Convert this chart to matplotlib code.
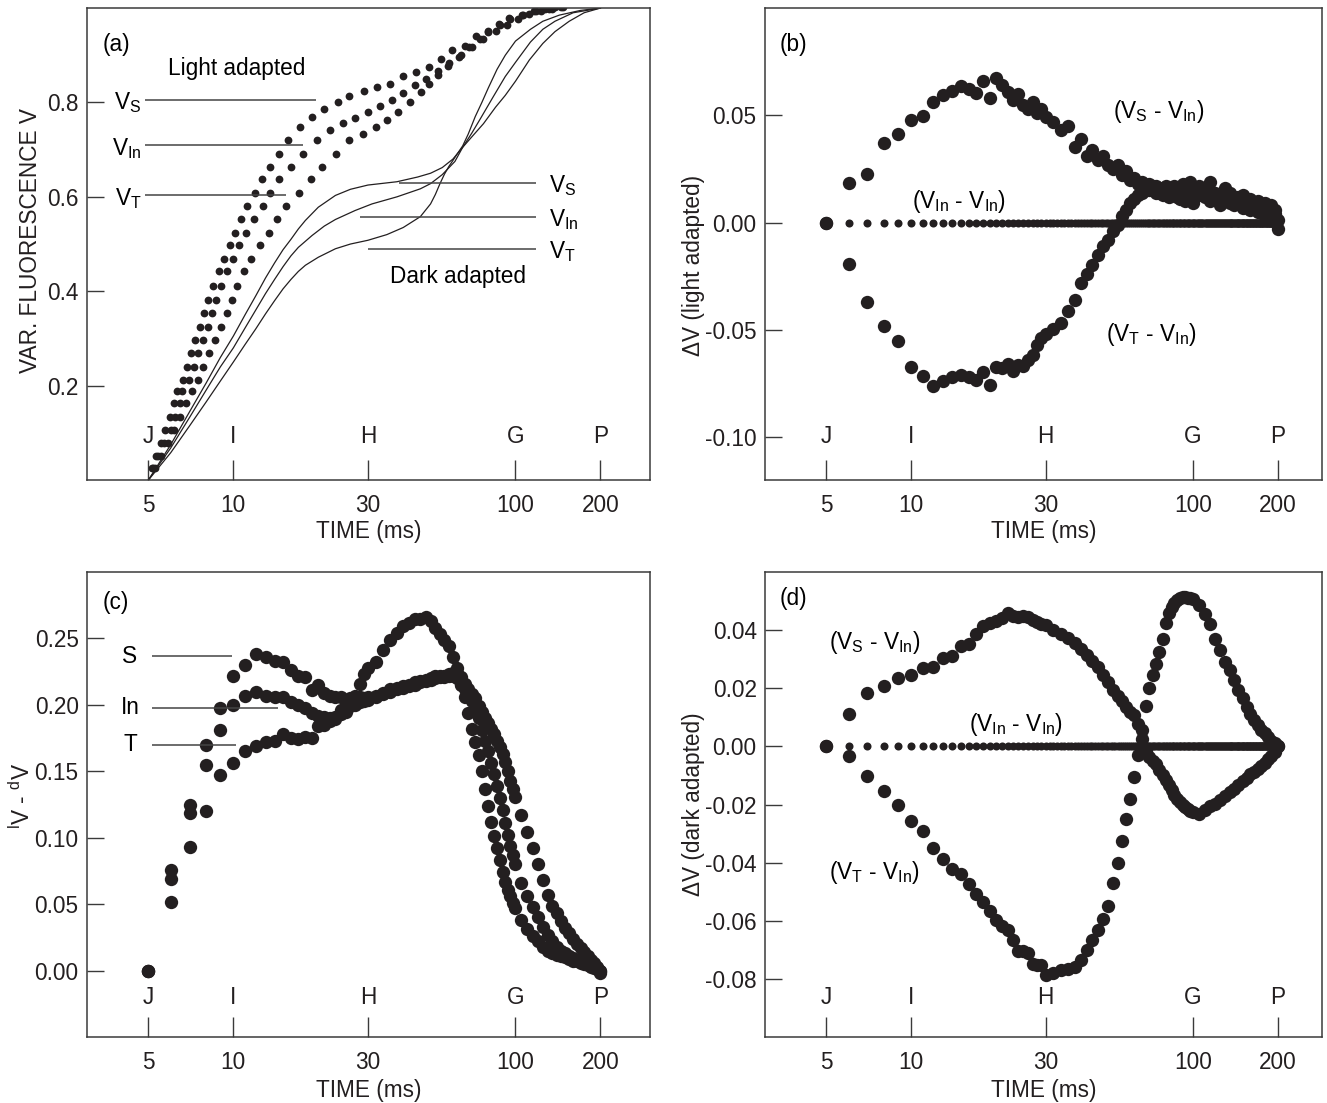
import numpy as np
import matplotlib
matplotlib.use("Agg")
import matplotlib.pyplot as plt
import matplotlib.transforms as mtransforms

plt.rcParams['font.family'] = ['Liberation Sans', 'DejaVu Sans']
plt.rcParams['font.size'] = 16.3
plt.rcParams['mathtext.fontset'] = 'custom'
plt.rcParams['mathtext.rm'] = 'Liberation Sans'
plt.rcParams['mathtext.it'] = 'Liberation Sans:italic'
plt.rcParams['mathtext.bf'] = 'Liberation Sans:bold'

INK = '#231f20'
EDGE = '#3a3a3a'

# ---- time axis ----------------------------------------------------------
x_ticks = [5, 10, 30, 100, 200]
x_ticklabels = ['5', '10', '30', '100', '200']
phase_names = ['J', 'I', 'H', 'G', 'P']

# sampling of the difference curves (ms)
t_diff = np.concatenate([np.arange(5, 31), np.arange(32, 101, 2), np.arange(105, 201, 5)])
t_every_ms = np.arange(5, 201)

# ---- (a) variable fluorescence, light adapted (dots) --------------------
v_rows = [0.025, 0.051, 0.078, 0.106, 0.134, 0.163, 0.189, 0.212, 0.240, 0.269,
          0.297, 0.324, 0.354, 0.382, 0.411, 0.443, 0.469, 0.498, 0.524, 0.554,
          0.581, 0.609, 0.638, 0.664, 0.691, 0.721]

t_light_S = [5.14, 5.33, 5.56, 5.74, 5.98, 6.18, 6.33, 6.65, 6.87, 7.10,
             7.33, 7.61, 7.86, 8.15, 8.49, 8.87, 9.29, 9.76, 10.1, 10.65,
             11.19, 11.9, 12.64, 13.53, 14.47, 15.63, 17.28, 19.02, 21.0, 23.4,
             25.6, 29.0, 32.4, 36.0, 39.9, 44.3, 49.4, 54.4, 59.7, 66.2,
             72.2, 80.0, 87.2, 95.0, 105.3, 116.7, 127, 138]
v_light_S = v_rows + [0.749, 0.769, 0.786, 0.802, 0.814, 0.824, 0.832, 0.840, 0.856, 0.864,
                      0.875, 0.893, 0.911, 0.920, 0.941, 0.952, 0.967, 0.978, 0.985, 0.994,
                      0.997, 1.002]

t_light_In = [5.18, 5.42, 5.69, 6.0, 6.23, 6.46, 6.59, 6.98, 7.24, 7.51,
              7.83, 8.12, 8.42, 8.71, 9.07, 9.50, 9.98, 10.44, 11.09, 11.87,
              12.70, 13.53, 14.56, 16.02, 17.67, 19.8, 22.0, 24.5, 27.0, 30.0,
              33.0, 36.5, 40.0, 44.0, 48.0, 53.0, 58.0, 64.0, 70.0, 77.0,
              85.0, 93.0, 102, 112, 123, 135, 147]
v_light_In = v_rows + [0.742, 0.757, 0.768, 0.780, 0.792, 0.806, 0.820, 0.836, 0.850, 0.866,
                       0.883, 0.900, 0.917, 0.934, 0.951, 0.965, 0.977, 0.987, 0.994, 0.999,
                       1.003]

t_light_T = [5.29, 5.56, 5.88, 6.18, 6.49, 6.81, 7.15, 7.51, 7.83, 8.22,
             8.64, 9.07, 9.52, 9.92, 10.33, 10.88, 11.58, 12.40, 13.34, 14.29,
             15.41, 17.14, 18.9, 20.6, 23.1, 25.6, 28.7, 32.0, 35.0, 38.2,
             42.3, 46.1, 49.4, 53.0, 57.7, 62.9, 68.5, 74.6, 80, 88,
             96, 106, 118, 131, 145]
v_light_T = v_rows + [0.734, 0.748, 0.763, 0.780, 0.800, 0.822, 0.840, 0.858, 0.877, 0.897,
                      0.917, 0.935, 0.950, 0.964, 0.976, 0.986, 0.994, 0.999, 1.002]

# ---- (a) dark adapted (lines) -------------------------------------------
t_dark_S = [5, 6, 7, 8, 9, 10, 11, 12, 13, 14, 15, 16, 17, 18, 20, 23, 26, 30, 38, 45,
            50, 55, 60, 65, 70, 77, 85, 92, 100, 112, 125, 138, 155, 175, 200]
v_dark_S = [0.0, 0.075, 0.145, 0.205, 0.26, 0.305, 0.35, 0.39, 0.428, 0.46, 0.488, 0.51,
            0.532, 0.55, 0.578, 0.603, 0.616, 0.625, 0.632, 0.642, 0.65, 0.662, 0.68,
            0.705, 0.727, 0.755, 0.79, 0.815, 0.845, 0.89, 0.925, 0.95, 0.972, 0.99, 1.0]

t_dark_In = [5, 6, 7, 8, 9, 10, 11, 12, 13, 14, 15, 16, 17, 19, 21, 23, 27, 31, 38, 46,
             50, 55, 61, 65, 70, 75, 83, 92, 100, 113, 125, 138, 160, 200]
v_dark_In = [0.0, 0.068, 0.133, 0.19, 0.24, 0.28, 0.322, 0.36, 0.395, 0.425, 0.452, 0.475,
             0.493, 0.518, 0.538, 0.552, 0.571, 0.585, 0.6, 0.617, 0.628, 0.647, 0.675,
             0.705, 0.735, 0.765, 0.81, 0.855, 0.885, 0.928, 0.955, 0.972, 0.99, 1.0]

t_dark_T = [5, 6, 7, 8, 9, 10, 11, 12, 13, 14, 15, 16, 17, 18, 20, 23, 26, 30, 35, 40,
            46, 50, 52, 54, 56, 58, 60, 62, 65, 68, 72, 76, 80, 86, 92, 100, 113, 125,
            143, 170, 200]
v_dark_T = [0.0, 0.058, 0.115, 0.165, 0.21, 0.25, 0.287, 0.32, 0.352, 0.38, 0.405, 0.425,
            0.442, 0.455, 0.472, 0.49, 0.5, 0.508, 0.52, 0.535, 0.558, 0.585, 0.605, 0.628,
            0.648, 0.664, 0.677, 0.69, 0.708, 0.733, 0.77, 0.8, 0.83, 0.87, 0.9, 0.93,
            0.955, 0.972, 0.985, 0.995, 1.0]

# ---- (b) light adapted differences --------------------------------------
dV_light_S = [0, .0183, .0227, .0369, .0411, .0476, .0498, .056, .0597, .0614,
              .0636, .0625, .0604, .0662, .058, .0672, .064, .061, .057, .060,
              .055, .053, .056, .051, .053, .049,
              .047, .043, .045, .035, .039, .031, .034, .029, .031, .027,
              .025, .027, .022, .024, .020, .021, .018, .019, .016, .018,
              .015, .017, .014, .016, .013, .016, .014, .017, .012, .015,
              .018, .013, .016, .019, .014,
              .017, .012, .019, .013, .011, .016, .009, .012, .010, .013,
              .008, .011, .007, .010, .006, .009, .005, .008, .004, .001]
dV_light_T = [0, -.0195, -.037, -.0484, -.0552, -.0674, -.0714, -.076, -.0739, -.0722,
              -.0711, -.0718, -.0734, -.0698, -.0755, -.0674, -.068, -.0657, -.069, -.0666,
              -.067, -.064, -.0617, -.057, -.054, -.052,
              -.0495, -.047, -.041, -.036, -.028, -.024, -.020, -.015, -.011, -.008,
              -.004, -.001, .003, .006, .009, .011, .013, .014, .015, .015,
              .017, .014, .016, .013, .017, .012, .016, .013, .015, .011,
              .014, .010, .015, .012, .009,
              .013, .016, .010, .014, .008, .012, .014, .008, .012, .007,
              .011, .006, .009, .005, .008, .003, .007, .001, .006, -.003]

# ---- (c) light minus dark ------------------------------------------------
ld_S = [0, .076, .125, .170, .198, .222, .230, .238, .236, .233,
        .232, .226, .222, .221, .211, .215, .209, .207, .206, .206,
        .203, .205, .206, .206, .205, .206,
        .207, .209, .212, .213, .214, .215, .217, .218, .219, .220,
        .222, .221, .222, .223, .224, .224, .221, .216, .212, .208,
        .205, .199, .195, .190, .186, .182, .178, .173, .168, .163,
        .157, .150, .143, .137, .131,
        .117, .104, .092, .080, .068, .057, .049, .043, .037, .032,
        .028, .024, .020, .017, .014, .011, .008, .006, .003, .000]
ld_In = [0, .069, .119, .155, .181, .200, .207, .210, .207, .206,
         .206, .202, .200, .198, .194, .192, .191, .190, .191, .196,
         .198, .199, .200, .202, .203, .204,
         .206, .208, .210, .212, .213, .214, .215, .217, .218, .219,
         .220, .222, .221, .222, .222, .220, .216, .212, .207, .203,
         .198, .190, .181, .173, .165, .156, .148, .139, .130, .121,
         .111, .102, .094, .087, .080,
         .066, .056, .048, .040, .033, .027, .022, .018, .015, .013,
         .011, .0095, .008, .007, .006, .005, .004, .003, .002, .000]
ld_T = [0, .052, .093, .120, .147, .156, .165, .169, .172, .173,
        .178, .175, .174, .176, .175, .184, .185, .188, .189, .193,
        .195, .200, .207, .216, .223, .228,
        .232, .241, .249, .254, .259, .262, .265, .265, .266, .263,
        .258, .253, .249, .244, .236, .228, .215, .206, .194, .182,
        .172, .162, .150, .137, .124, .112, .101, .092, .083, .074,
        .067, .061, .056, .051, .047,
        .038, .031, .026, .022, .018, .015, .013, .012, .011, .010,
        .0085, .0075, .007, .006, .005, .004, .003, .002, .001, -.002]

# ---- (d) dark adapted differences ---------------------------------------
dV_dark_S = [0, .0112, .0184, .0208, .0235, .0246, .0270, .0274, .0304, .0312,
             .0346, .0354, .0386, .0415, .0424, .0430, .0442, .0458, .0450, .0446,
             .0448, .0446, .0436, .0428, .0421, .0416,
             .0400, .0388, .0373, .0356, .0336, .0315, .0295, .0272, .0246, .0220,
             .0193, .0172, .0155, .0136, .0120, .0108, .0078, .0025, -.0015, -.0035,
             -.0050, -.0062, -.0080, -.0100, -.0115, -.0132, -.0150, -.0168, -.0180, -.0192,
             -.0202, -.0210, -.0217, -.0222, -.0225,
             -.0233, -.0218, -.0206, -.0198, -.0185, -.0170, -.0157, -.0145, -.0132, -.0120,
             -.0108, -.0096, -.0087, -.0078, -.0068, -.0058, -.0045, -.0033, -.0018, .0000]
dV_dark_T = [0, -.0032, -.0102, -.0153, -.0203, -.0258, -.0291, -.0351, -.0387, -.0423,
             -.0438, -.0474, -.0507, -.0537, -.0567, -.0597, -.0619, -.0633, -.0667, -.0703,
             -.0705, -.0711, -.0747, -.0751, -.0753, -.0787,
             -.0778, -.0768, -.0765, -.0760, -.0735, -.0700, -.0665, -.0630, -.0595, -.0550,
             -.0470, -.0400, -.0325, -.0250, -.0180, -.0105, -.0030, .0055, .0140, .0200,
             .0245, .0285, .0325, .0370, .0424, .0460, .0480, .0495, .0505, .0510,
             .0514, .0513, .0512, .0511, .0508,
             .0485, .0455, .0420, .0370, .0330, .0290, .0262, .0230, .0195, .0165,
             .0135, .0112, .0090, .0072, .0058, .0045, .0032, .0020, .0010, .0000]
dV_In_In = np.zeros(len(t_every_ms))


fig = plt.figure(figsize=(13.27, 11.03), dpi=100)
ax_a = fig.add_axes([0.0656, 0.5648, 0.4243, 0.4279])
ax_b = fig.add_axes([0.5765, 0.5648, 0.4197, 0.4279])
ax_c = fig.add_axes([0.0656, 0.0598, 0.4243, 0.4216])
ax_d = fig.add_axes([0.5765, 0.0598, 0.4197, 0.4216])


def frame(ax, xlim, ylim, yticks, ylabels, letter_y, ylab, ylab_xy, xlab_y):
    ax.set_xscale('log')
    ax.set_xlim(*xlim)
    ax.set_ylim(*ylim)
    ax.set_xticks(x_ticks, labels=x_ticklabels)
    ax.minorticks_off()
    ax.set_yticks(yticks, labels=ylabels)
    ax.tick_params(axis='x', direction='in', length=14.5, width=1.0, pad=10,
                   color=EDGE, labelcolor=INK)
    ax.tick_params(axis='y', direction='in', length=12, width=1.0, pad=6,
                   color=EDGE, labelcolor=INK)
    for sp in ax.spines.values():
        sp.set_linewidth(1.1)
        sp.set_color(EDGE)
    tr = mtransforms.blended_transform_factory(ax.transData, ax.transAxes)
    for xt, name in zip(x_ticks, phase_names):
        ax.text(xt, letter_y, name, transform=tr, ha='center', va='center', color=INK)
    ax.text(ylab_xy[0], ylab_xy[1], ylab, transform=ax.transAxes, rotation=90,
            ha='center', va='center', color=INK)
    ax.text(0.5, xlab_y, 'TIME (ms)', transform=ax.transAxes,
            ha='center', va='center', color=INK)


def hline(ax, y, t0, t1):
    ax.plot([t0, t1], [y, y], color='#444444', lw=1.1, solid_capstyle='butt')


big = dict(ls='none', marker='o', ms=9.6, color=INK, mec='none')
small = dict(ls='none', marker='o', ms=5.8, color=INK, mec='none')

# (a)
frame(ax_a, (3.03, 300), (0, 1.0), [0.2, 0.4, 0.6, 0.8], ['0.2', '0.4', '0.6', '0.8'],
      0.092, 'VAR. FLUORESCENCE V', (-0.101, 0.508), -0.110)
for t, v in [(t_light_S, v_light_S), (t_light_In, v_light_In), (t_light_T, v_light_T)]:
    ax_a.plot(t, v, ls='none', marker='o', ms=5.6, color=INK, mec='none')
for t, v in [(t_dark_S, v_dark_S), (t_dark_In, v_dark_In), (t_dark_T, v_dark_T)]:
    ax_a.plot(t, v, color=INK, lw=0.9)
ax_a.text(0.027, 0.922, '(a)', transform=ax_a.transAxes, ha='left', va='center')
ax_a.text(10.3, 0.871, 'Light adapted', ha='center', va='center')
ax_a.text(62.7, 0.432, 'Dark adapted', ha='center', va='center')
for y, t1, sub in [(0.806, 19.6, 'S'), (0.709, 17.7, 'In'), (0.603, 15.4, 'T')]:
    hline(ax_a, y, 4.87, t1)
    ax_a.text(4.72, y - 0.02, r'V$_{\mathrm{%s}}$' % sub, ha='right', va='baseline')
for y, t0, sub in [(0.630, 38.5, 'S'), (0.558, 28.0, 'In'), (0.490, 30.0, 'T')]:
    hline(ax_a, y, t0, 118)
    ax_a.text(131, y - 0.02, r'V$_{\mathrm{%s}}$' % sub, ha='left', va='baseline')

# (b)
frame(ax_b, (3.03, 287), (-0.12, 0.10), [-0.10, -0.05, 0.0, 0.05],
      ['-0.10', '-0.05', '0.00', '0.05'], 0.092, u'\u0394V (light adapted)',
      (-0.129, 0.455), -0.110)
ax_b.plot(t_every_ms, dV_In_In, **small)
ax_b.plot(t_diff, dV_light_S, **big)
ax_b.plot(t_diff, dV_light_T, **big)
ax_b.text(0.027, 0.922, '(b)', transform=ax_b.transAxes, ha='left', va='center')
ax_b.text(51.9, 0.052, r'(V$_{\mathrm{S}}$ - V$_{\mathrm{In}}$)', ha='left', va='center')
ax_b.text(10.1, 0.0100, r'(V$_{\mathrm{In}}$ - V$_{\mathrm{In}}$)', ha='left', va='center')
ax_b.text(49.2, -0.052, r'(V$_{\mathrm{T}}$ - V$_{\mathrm{In}}$)', ha='left', va='center')

# (c)
frame(ax_c, (3.03, 300), (-0.05, 0.30), [0.0, 0.05, 0.10, 0.15, 0.20, 0.25],
      ['0.00', '0.05', '0.10', '0.15', '0.20', '0.25'], 0.084,
      r'$^{\mathrm{l}}$V - $^{\mathrm{d}}$V', (-0.115, 0.518), -0.114)
for series in (ld_S, ld_In, ld_T):
    ax_c.plot(t_diff, series, **big)
ax_c.text(0.027, 0.935, '(c)', transform=ax_c.transAxes, ha='left', va='center')
for y, t1, name in [(0.2365, 9.92, 'S'), (0.198, 14.4, 'In'), (0.170, 10.25, 'T')]:
    hline(ax_c, y, 5.15, t1)
    ax_c.text(4.3, y, name, ha='center', va='center')

# (d)
frame(ax_d, (3.03, 287), (-0.10, 0.06), [-0.08, -0.06, -0.04, -0.02, 0.0, 0.02, 0.04],
      ['-0.08', '-0.06', '-0.04', '-0.02', '0.00', '0.02', '0.04'], 0.084,
      u'\u0394V (dark adapted)', (-0.129, 0.50), -0.114)
ax_d.plot(t_every_ms, dV_In_In, **small)
ax_d.plot(t_diff, dV_dark_S, **big)
ax_d.plot(t_diff, dV_dark_T, **big)
ax_d.text(0.027, 0.942, '(d)', transform=ax_d.transAxes, ha='left', va='center')
ax_d.text(5.11, 0.0358, r'(V$_{\mathrm{S}}$ - V$_{\mathrm{In}}$)', ha='left', va='center')
ax_d.text(16.1, 0.0076, r'(V$_{\mathrm{In}}$ - V$_{\mathrm{In}}$)', ha='left', va='center')
ax_d.text(5.11, -0.0435, r'(V$_{\mathrm{T}}$ - V$_{\mathrm{In}}$)', ha='left', va='center')

fig.savefig('out.png', dpi=100, facecolor='white')
